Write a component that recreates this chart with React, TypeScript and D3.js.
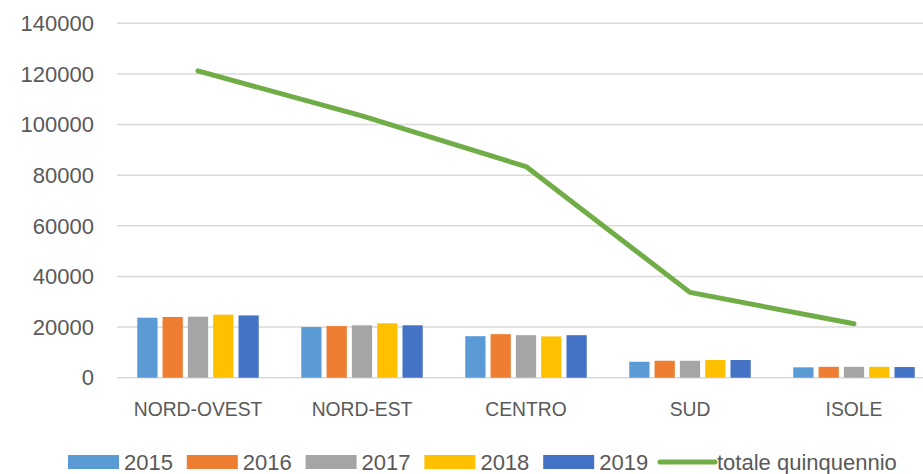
import React from "react";
import * as d3 from "d3";

// dati
const regioni = ["NORD-OVEST", "NORD-EST", "CENTRO", "SUD", "ISOLE"];
const anni = ["2015", "2016", "2017", "2018", "2019"];
const v2015 = [23700, 20000, 16400, 6300, 4100];
const v2016 = [24000, 20400, 17200, 6700, 4300];
const v2017 = [24100, 20700, 16800, 6700, 4300];
const v2018 = [24900, 21500, 16300, 7000, 4300];
const v2019 = [24600, 20700, 16800, 7000, 4200];
const totale = [121200, 103400, 83400, 33700, 21300];
const yTicks = [0, 20000, 40000, 60000, 80000, 100000, 120000, 140000];

const serie = [v2015, v2016, v2017, v2018, v2019];
const colori = ["#5B9BD5", "#ED7D31", "#A5A5A5", "#FFC000", "#4472C4"];
const coloreLinea = "#70AD47";

const W = 923;
const H = 474;
// l'area del grafico prosegue oltre il bordo destro
const plot = { left: 116, right: 936, top: 23.3, bottom: 377.7 };
const font = "'Liberation Sans', Arial, sans-serif";

const App: React.FC = () => {
  const x = d3
    .scaleBand<string>()
    .domain(regioni)
    .range([plot.left, plot.right])
    .padding(0);

  const xInner = d3
    .scaleBand<string>()
    .domain(anni)
    .range([0, x.bandwidth()])
    .paddingInner(0.2)
    .paddingOuter(0.84);

  const y = d3
    .scaleLinear()
    .domain([0, 140000])
    .range([plot.bottom, plot.top]);

  const line = d3
    .line<number>()
    .x((_, i) => (x(regioni[i]) ?? 0) + x.bandwidth() / 2)
    .y((d) => y(d));

  // legenda
  const legX = 68;
  const legStep = 118.8;
  const legY = 462;

  return (
    <svg
      width={W}
      height={H}
      style={{ position: "absolute", left: 0, top: 0, background: "#fff" }}
      fontFamily={font}
    >
      {/* griglia */}
      {yTicks.map((t) => (
        <g key={t}>
          <line
            x1={plot.left + 1}
            x2={W}
            y1={y(t)}
            y2={y(t)}
            stroke="#d9d9d9"
            strokeWidth={1.5}
          />
          <text
            x={94}
            y={y(t)}
            dy="0.35em"
            textAnchor="end"
            fontSize={22}
            fill="#595959"
          >
            {t}
          </text>
        </g>
      ))}

      {/* barre */}
      {serie.map((vals, s) =>
        vals.map((v, i) => (
          <rect
            key={`${s}-${i}`}
            x={(x(regioni[i]) ?? 0) + (xInner(anni[s]) ?? 0)}
            y={y(v)}
            width={xInner.bandwidth()}
            height={y(0) - y(v)}
            fill={colori[s]}
          />
        ))
      )}

      {/* linea totale */}
      <path
        d={line(totale) ?? ""}
        fill="none"
        stroke={coloreLinea}
        strokeWidth={5}
        strokeLinecap="round"
        strokeLinejoin="round"
      />

      {/* etichette categorie */}
      {regioni.map((r) => (
        <text
          key={r}
          x={(x(r) ?? 0) + x.bandwidth() / 2}
          y={416}
          textAnchor="middle"
          fontSize={19.3}
          fill="#595959"
        >
          {r}
        </text>
      ))}

      {/* legenda */}
      {anni.map((a, i) => (
        <g key={a} transform={`translate(${legX + i * legStep},${legY})`}>
          <rect x={0} y={-7} width={51} height={14} fill={colori[i]} />
          <text x={56} y={0} dy="0.35em" fontSize={22} fill="#595959">
            {a}
          </text>
        </g>
      ))}
      <g transform={`translate(${legX + 5 * legStep - 2},${legY})`}>
        <line
          x1={0}
          x2={55}
          y1={0}
          y2={0}
          stroke={coloreLinea}
          strokeWidth={5}
          strokeLinecap="round"
        />
        <text x={57} y={0} dy="0.35em" fontSize={22} fill="#595959">
          totale quinquennio
        </text>
      </g>
    </svg>
  );
};

export default App;
